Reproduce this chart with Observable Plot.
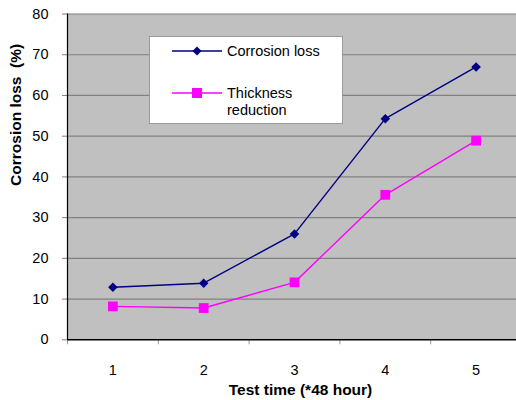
<!DOCTYPE html>
<html>
<head>
<meta charset="utf-8">
<script src="https://cdn.jsdelivr.net/npm/d3@7"></script>
<script src="https://cdn.jsdelivr.net/npm/@observablehq/plot@0.6"></script>
<style>
  html, body { margin: 0; padding: 0; background: #fff; overflow: hidden; }
  #wrap { position: relative; width: 516px; height: 400px; overflow: hidden; font-family: Arial, "Liberation Sans", sans-serif; }
  #wrap > svg { max-width: none !important; display: block; }
  #legend {
    position: absolute; left: 149px; top: 36px; width: 194px; height: 88px;
    background: #fff; border: 1px solid #9a9a9a; box-sizing: border-box;
    font-size: 14.5px; color: #000;
  }
  .item { position: absolute; left: 22px; display: flex; align-items: flex-start; }
  .item svg { display: block; }
  .item span { margin-left: 5px; line-height: 17px; }
</style>
</head>
<body>
<div id="wrap"></div>
<script>
// Test time (units of 48 hours) and measured losses in percent
const testTimes = [1, 2, 3, 4, 5];
const corrosionLoss = [12.9, 13.9, 26.0, 54.3, 67.0];
const thicknessReduction = [8.2, 7.8, 14.1, 35.6, 48.9];
const yTicks = [0, 10, 20, 30, 40, 50, 60, 70, 80];
const seriesNames = ["Corrosion loss", "Thickness reduction"];
const seriesColors = ["#000080", "#ff00ff"];

const rows = testTimes.flatMap((t, i) => [
  {t, value: corrosionLoss[i], series: seriesNames[0]},
  {t, value: thicknessReduction[i], series: seriesNames[1]}
]);
const bandEdges = testTimes.map(t => t - 0.5).concat([testTimes[testTimes.length - 1] + 0.5]);

// square-proportioned diamond marker (equal width and height)
const evenDiamond = {
  draw(context, size) {
    const h = Math.sqrt(size / 2);
    context.moveTo(0, -h);
    context.lineTo(h, 0);
    context.lineTo(0, h);
    context.lineTo(-h, 0);
    context.closePath();
  }
};

const chart = Plot.plot({
  width: 521,
  height: 400,
  marginLeft: 67,
  marginRight: 0,
  marginTop: 13.5,
  marginBottom: 60.7,
  style: {fontFamily: "Arial, 'Liberation Sans', sans-serif", fontSize: "14.5px", color: "#000", background: "transparent", maxWidth: "none"},
  x: {domain: [0.5, 5.5], axis: null},
  y: {domain: [0, 80], axis: null},
  color: {domain: seriesNames, range: seriesColors},
  marks: [
    Plot.frame({fill: "#c0c0c0", stroke: null}),
    Plot.ruleY(yTicks.filter(d => d > 0), {stroke: "#808080", strokeWidth: 1.2}),
    // tick marks between categories
    Plot.axisX({ticks: bandEdges, tickSize: 5, tickFormat: () => "", stroke: "#9a9a9a", strokeOpacity: 1, label: null}),
    Plot.axisX({ticks: testTimes, tickSize: 0, tickPadding: 25, tickFormat: d => String(d), label: null}),
    Plot.axisY({ticks: yTicks, tickSize: 5, tickPadding: 14, stroke: "#808080", strokeOpacity: 1, label: null}),
    Plot.ruleX([0.5], {stroke: "#000", strokeWidth: 1.2}),
    Plot.ruleY([0], {stroke: "#000", strokeWidth: 1.6}),
    Plot.line(rows, {x: "t", y: "value", z: "series", stroke: "series", strokeWidth: 1.4}),
    Plot.dot(rows.filter(d => d.series === seriesNames[0]), {x: "t", y: "value", symbol: evenDiamond, fill: seriesColors[0], r: 3.8}),
    Plot.dot(rows.filter(d => d.series === seriesNames[1]), {x: "t", y: "value", symbol: "square", fill: seriesColors[1], r: 5.5}),
    Plot.text(["Test time (*48 hour)"], {frameAnchor: "bottom", lineAnchor: "middle", dy: 50, dx: 6, fontWeight: "bold", fontSize: 15.5}),
    Plot.text(["Corrosion loss\u00a0 (%)"], {frameAnchor: "left", lineAnchor: "middle", dx: -51.5, dy: 9, rotate: -90, fontWeight: "bold", fontSize: 15.5})
  ]
});

const wrap = document.getElementById("wrap");
wrap.appendChild(chart);

// legend box
const legend = document.createElement("div");
legend.id = "legend";
const entries = [
  {lines: ["Corrosion loss"], top: 6, shape: "diamond"},
  {lines: ["Thickness", "reduction"], top: 48, shape: "square"}
];
entries.forEach((e, i) => {
  const item = document.createElement("div");
  item.className = "item";
  item.style.top = e.top + "px";
  const color = seriesColors[i];
  const marker = e.shape === "diamond"
    ? `<path d="M25,3.5 L29.5,8 L25,12.5 L20.5,8 Z" fill="${color}"/>`
    : `<rect x="20" y="3" width="10" height="10" fill="${color}"/>`;
  item.innerHTML = `<svg width="50" height="16"><line x1="0" x2="50" y1="8" y2="8" stroke="${color}" stroke-width="1.4"/>${marker}</svg><span>${e.lines.join("<br>")}</span>`;
  legend.appendChild(item);
});
wrap.appendChild(legend);
</script>
</body>
</html>
